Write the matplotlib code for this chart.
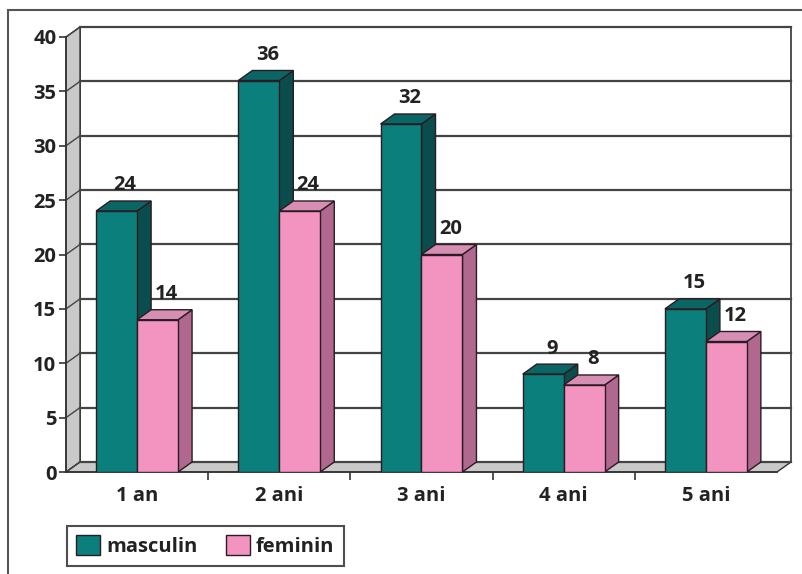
import matplotlib
matplotlib.use('Agg')
import matplotlib.pyplot as plt
from matplotlib.patches import Polygon, Rectangle, Patch

plt.rcParams['font.family'] = ['Open Sans', 'DejaVu Sans']
plt.rcParams['font.weight'] = 'bold'

categories = ['1 an', '2 ani', '3 ani', '4 ani', '5 ani']
masculin = [24, 36, 32, 9, 15]
feminin = [14, 24, 20, 8, 12]
series_names = ['masculin', 'feminin']

# colours: front, side, top
teal = ('#0b7f7b', '#0b4d4c', '#0a6664')
pink = ('#f393c0', '#b0688f', '#d68fb3')
edge = '#2b1b22'

W = 0.288          # bar width in category units
DX = 0.0985        # depth offset (x, category units)
DY = 0.92          # depth offset (y, data units)
YMAX = 40
FS = 14.5

fig = plt.figure(figsize=(8.03, 5.74), dpi=100)
ax = fig.add_axes([66 / 803, 102 / 574, 711 / 803, 435 / 574])
ax.set_xlim(-0.5, 4.5)
ax.set_ylim(0, YMAX)

x0, x1 = -0.5, len(categories) - 0.5

# back wall, left wall, floor
ax.add_patch(Rectangle((x0 + DX, DY), x1 - x0, YMAX, facecolor='white',
                       edgecolor='#333333', lw=1.2, zorder=0, clip_on=False))
ax.add_patch(Polygon([(x0, 0), (x0, YMAX), (x0 + DX, YMAX + DY), (x0 + DX, DY)],
                     closed=True, facecolor='#c9c9c9', edgecolor='#333333',
                     lw=1.0, zorder=0.5, clip_on=False))
ax.add_patch(Polygon([(x0, 0), (x1, 0), (x1 + DX, DY), (x0 + DX, DY)],
                     closed=True, facecolor='#c9c9c9', edgecolor='#333333',
                     lw=1.0, zorder=0.5, clip_on=False))

# gridlines on back and left wall
for v in range(0, YMAX + 1, 5):
    ax.plot([x0 + DX, x1 + DX], [v + DY, v + DY], color='#444444', lw=1.6,
            zorder=0.6, clip_on=False)
    ax.plot([x0, x0 + DX], [v, v + DY], color='#444444', lw=1.0,
            zorder=0.6, clip_on=False)


def draw_bars(values, offset, colors, z):
    front, side, top = colors
    xs = [i + offset for i in range(len(values))]
    ax.bar(xs, values, width=W, align='edge', color=front, edgecolor=edge,
           lw=1.0, zorder=z + 0.2)
    for x, v in zip(xs, values):
        ax.add_patch(Polygon([(x + W, 0), (x + W + DX, DY), (x + W + DX, v + DY), (x + W, v)],
                             closed=True, facecolor=side, edgecolor=edge, lw=1.0,
                             zorder=z, clip_on=False))
        ax.add_patch(Polygon([(x, v), (x + DX, v + DY), (x + W + DX, v + DY), (x + W, v)],
                             closed=True, facecolor=top, edgecolor=edge, lw=1.0,
                             zorder=z + 0.1, clip_on=False))
        ax.annotate(str(v), (x + (W + DX) / 2 + 0.01, v + DY), xytext=(0, 4),
                    textcoords='offset points', ha='center', va='bottom',
                    fontsize=FS, fontweight='bold', color='#222222',
                    zorder=10, annotation_clip=False)


draw_bars(masculin, -W, teal, 3)
draw_bars(feminin, 0, pink, 4)

# axes styling
for s in ['top', 'right']:
    ax.spines[s].set_visible(False)
ax.spines['left'].set_color('#333333')
ax.spines['bottom'].set_color('#333333')
ax.spines['left'].set_linewidth(1.2)
ax.spines['bottom'].set_linewidth(1.2)
ax.spines['left'].set_zorder(0.7)
ax.spines['bottom'].set_zorder(0.7)
ax.patch.set_visible(False)

ax.set_yticks(range(0, YMAX + 1, 5))
ax.tick_params(axis='y', length=5, width=1.2, color='#333333', labelsize=FS,
               pad=2, labelcolor='#222222')
ax.set_xticks(range(len(categories)))
ax.set_xticklabels(categories)
ax.tick_params(axis='x', which='major', length=0, labelsize=FS, pad=10,
               labelcolor='#222222')
ax.set_xticks([i + 0.5 for i in range(len(categories) - 1)], minor=True)
ax.tick_params(axis='x', which='minor', length=6, width=1.2, color='#333333')
for lab in ax.get_xticklabels() + ax.get_yticklabels():
    lab.set_fontweight('bold')

handles = [Patch(facecolor=teal[0], edgecolor=edge), Patch(facecolor=pink[0], edgecolor=edge)]
leg = fig.legend(handles, series_names, loc='lower left',
                 bbox_to_anchor=(67 / 803, 8 / 574), ncol=2, frameon=True,
                 fancybox=False, edgecolor='#222222', fontsize=FS,
                 handlelength=1.2, handleheight=1.2, handletextpad=0.3,
                 columnspacing=1.4, borderpad=0.45, borderaxespad=0)
leg.get_frame().set_linewidth(1.5)
for t in leg.get_texts():
    t.set_fontweight('bold')
    t.set_color('#222222')

# outer border
fig.patches.append(Rectangle((8 / 803, -0.1), 1.1, (574 - 10) / 574 + 0.1,
                             transform=fig.transFigure, fill=False,
                             edgecolor='#555555', lw=1.5))

fig.savefig('out.png', dpi=100)
